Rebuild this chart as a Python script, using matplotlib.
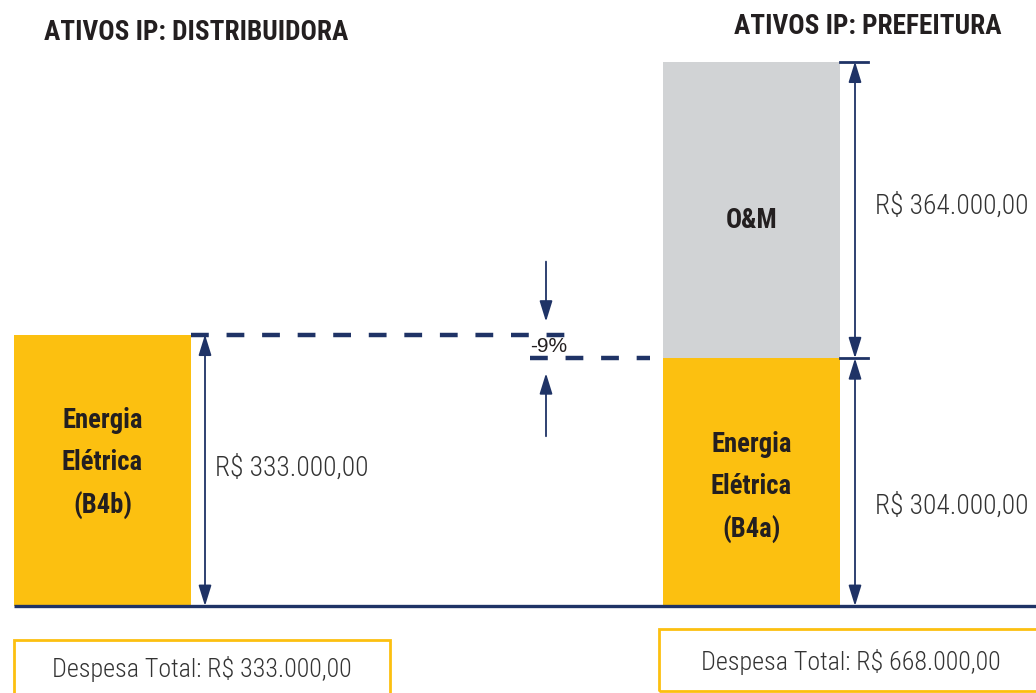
import matplotlib
matplotlib.use("Agg")
import matplotlib.pyplot as plt
from matplotlib.patches import Rectangle

# Data (R$ thousands)
groups = ["ATIVOS IP: DISTRIBUIDORA", "ATIVOS IP: PREFEITURA"]
energia = [333, 304]
om = [0, 364]
energia_labels = ["Energia\nElétrica\n(B4b)", "Energia\nElétrica\n(B4a)"]
om_label = "O&M"

yellow = "#FCC010"
gray = "#D1D3D5"
navy = "#1F3366"
dark = "#231F20"
txt = "#333333"

plt.rcParams['font.family'] = ['Roboto Condensed', 'Liberation Sans', 'DejaVu Sans']


def brl(v):
    s = f"{v * 1000:,.2f}"
    return "R$ " + s.replace(",", "X").replace(".", ",").replace("X", ".")


# pixel layout helpers (figure 1036x693, baseline at 606 px from top)
scale = 0.815
base_px = 606


def py(pix):
    return (base_px - pix) / scale


fig = plt.figure(figsize=(10.36, 6.93), dpi=100)
ax = fig.add_axes([0, 0, 1, 1])
ax.set_xlim(0, 1036)
ax.set_ylim(py(693), py(0))
ax.axis("off")

xpos = [102.5, 751.5]
width = 177

totals = [e + o for e, o in zip(energia, om)]

ax.bar(xpos, energia, width=width, color=yellow, zorder=2)
ax.bar(xpos, om, bottom=energia, width=width, color=gray, zorder=2)

# baseline
ax.plot([14, 1036], [0, 0], color=navy, lw=2.4, zorder=3, solid_capstyle="butt")

# labels inside bars
for x, e, lab, off in zip(xpos, energia, energia_labels, [8, -7]):
    ax.text(x, e / 2 + off, lab, ha="center", va="center", fontsize=19.2,
            fontweight="bold", color=dark, linespacing=1.72, zorder=4)
ax.text(xpos[1], energia[1] + om[1] / 2 - 13, om_label, ha="center", va="center",
        fontsize=19.2, fontweight="bold", color=dark, zorder=4)

# titles
ax.text(44, py(33), groups[0], ha="left", va="center", fontsize=19.6,
        fontweight="bold", color=dark)
ax.text(1002, py(27), groups[1], ha="right", va="center", fontsize=19.6,
        fontweight="bold", color=dark)

arrow_kw = dict(arrowstyle="<|-|>,head_length=0.9,head_width=0.28", color=navy,
                lw=1.3, shrinkA=0, shrinkB=0, mutation_scale=14)
single_kw = dict(arrowstyle="-|>,head_length=0.9,head_width=0.28", color=navy,
                 lw=1.3, shrinkA=0, shrinkB=0, mutation_scale=14)

# left dimension
ax.annotate("", xy=(205, 0), xytext=(205, energia[0]), arrowprops=arrow_kw, zorder=3)
ax.text(215, energia[0] / 2 + 3, brl(energia[0]), ha="left", va="center",
        fontsize=19.8, fontweight="light", color=txt)

# right dimensions
ax.plot([840, 868], [totals[1], totals[1]], color=navy, lw=2, zorder=3)
ax.plot([840, 868], [energia[1], energia[1]], color=navy, lw=2, zorder=3)
ax.annotate("", xy=(855, energia[1]), xytext=(855, totals[1]), arrowprops=arrow_kw)
ax.annotate("", xy=(855, 0), xytext=(855, energia[1]), arrowprops=arrow_kw)
ax.text(875, energia[1] + om[1] / 2 + 5, brl(om[1]), ha="left", va="center",
        fontsize=19.8, fontweight="light", color=txt)
ax.text(875, energia[1] / 2 - 30, brl(energia[1]), ha="left", va="center",
        fontsize=19.8, fontweight="light", color=txt)

# dashed comparison lines
ax.plot([191, 567], [totals[0], totals[0]], color=navy, lw=3.2,
        dashes=(4, 4), dash_capstyle="butt", zorder=3)
ax.plot([530, 650], [energia[1], energia[1]], color=navy, lw=3.2,
        dashes=(4, 4), dash_capstyle="butt", zorder=3)

pct = (energia[1] - totals[0]) / totals[0] * 100
ax.text(549, (totals[0] + energia[1]) / 2 - 0.5, f"{pct:.0f}%", ha="center", va="center",
        fontsize=15, family=['Liberation Sans', 'DejaVu Sans'], color=dark, zorder=4)
ax.annotate("", xy=(546, totals[0] + 13 / scale), xytext=(546, totals[0] + 73 / scale),
            arrowprops=single_kw)
ax.annotate("", xy=(546, energia[1] - 15 / scale), xytext=(546, energia[1] - 78 / scale),
            arrowprops=single_kw)

# bottom total boxes
ax.add_patch(Rectangle((14, py(700)), 376, py(640) - py(700), fill=False,
                       edgecolor=yellow, lw=2, clip_on=False))
ax.add_patch(Rectangle((659, py(691)), 400, py(629) - py(691), fill=False,
                       edgecolor=yellow, lw=2, clip_on=False))
ax.text(202, py(669), "Despesa Total: " + brl(totals[0]), ha="center", va="center",
        fontsize=18.7, fontweight="light", color=txt)
ax.text(851, py(662), "Despesa Total: " + brl(totals[1]), ha="center", va="center",
        fontsize=18.7, fontweight="light", color=txt)

fig.savefig("out.png", dpi=100)
